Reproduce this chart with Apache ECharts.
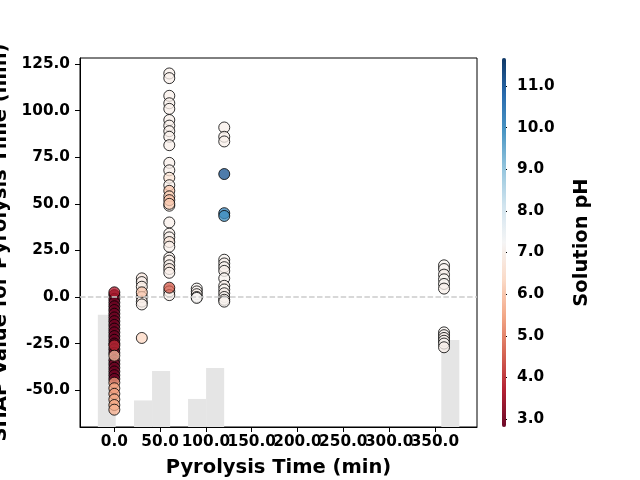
<!DOCTYPE html>
<html lang="en">
<head>
  <meta charset="UTF-8">
  <title>SHAP dependence - Pyrolysis Time</title>
  <script src="https://cdn.jsdelivr.net/npm/echarts@6/dist/echarts.min.js"></script>
  <style>
    html, body { margin: 0; padding: 0; background: #fff; }
    #chart { width: 640px; height: 480px; }
  </style>
</head>
<body>
  <div id="chart"></div>
  <script>
    // SHAP values and solution pH, one pair of arrays per pyrolysis time
    var shapT0 = [1, -1, -3, -5, -7, -9, -11, -13, -15, -17, -19, -21, -23, -25, -28, -30, -34, -36, -38, -40, -42, -44, 2.5, -26, -31.5, -46, -49, -52, -55, -58, -60.5];
    var phT0   = [2.85, 2.85, 2.85, 2.85, 2.85, 2.85, 2.85, 2.85, 2.85, 2.85, 2.85, 2.85, 2.85, 2.85, 2.85, 2.85, 2.85, 2.85, 2.85, 2.85, 2.85, 2.85, 3.7, 3.9, 5.8, 5.3, 5.4, 5.3, 5.5, 5.5, 5.6];

    var shapT30 = [10, 8, 5.5, 0, -2.5, -4, 2.5, -22];
    var phT30   = [6.8, 7.0, 6.9, 6.8, 6.9, 7.0, 6.0, 6.3];

    var shapT60 = [120, 117.5, 108, 104, 101, 95, 92, 89, 86, 81.5, 72, 68, 64, 60, 49, 40, 34, 32, 29.5, 27, 21, 19.5, 17, 15, 13, 3, 1, 57, 54, 52, 50, 5];
    var phT60   = [7.0, 7.0, 7.0, 7.0, 7.0, 7.0, 7.0, 7.0, 7.0, 7.0, 7.0, 7.0, 6.6, 7.0, 7.0, 7.0, 7.0, 7.0, 6.7, 7.0, 7.0, 7.0, 7.0, 6.8, 7.0, 7.0, 7.0, 6.0, 6.2, 5.9, 6.1, 4.5];

    var shapT90 = [4.5, 3, 1.5, 0, -0.5];
    var phT90   = [7.1, 7.1, 7.0, 7.1, 7.2];

    var shapT120 = [91, 86, 83.5, 20, 18, 16, 14, 10, 6, 4, 2, 0, -1.5, -2.5, 66, 45, 43.5];
    var phT120   = [7.0, 7.0, 7.0, 7.1, 7.0, 7.1, 7.0, 7.1, 7.0, 7.1, 7.0, 7.1, 7.0, 7.1, 11.1, 10.2, 10.0];

    var shapT360 = [17, 15, 12, 9.5, 7, 4.5, -19, -20.5, -22, -23.5, -25, -27];
    var phT360   = [7.1, 7.1, 7.0, 7.1, 7.1, 7.0, 7.1, 7.1, 7.0, 7.1, 7.1, 7.0];

    var timeGroups = [0, 30, 60, 90, 120, 360];
    var shapGroups = [shapT0, shapT30, shapT60, shapT90, shapT120, shapT360];
    var phGroups = [phT0, phT30, phT60, phT90, phT120, phT360];

    // background histogram of pyrolysis time
    var histLeft  = [-18, 21.5, 41.2, 80.5, 100.2, 357];
    var histRight = [1.5, 41.2, 60.9, 100.2, 119.9, 376.7];
    var histCount = [76, 18, 38, 19, 40, 59];
    var histTotal = 250;

    // tick labels
    var timeTicks = [0, 50, 100, 150, 200, 250, 300, 350];
    var shapTicks = [-50, -25, 0, 25, 50, 75, 100, 125];
    var phTicks = [3, 4, 5, 6, 7, 8, 9, 10, 11];

    var rdbu = ['#67001f', '#b2182b', '#d6604d', '#f4a582', '#fddbc7', '#f7f7f7',
                '#d1e5f0', '#92c5de', '#4393c3', '#2166ac', '#053061'];

    var points = [];
    for (var g = 0; g < timeGroups.length; g++) {
      for (var i = 0; i < shapGroups[g].length; i++) {
        points.push([timeGroups[g], shapGroups[g][i], phGroups[g][i]]);
      }
    }
    var bars = histLeft.map(function (l, i) { return [l, histRight[i], histCount[i]]; });

    // the x labels overlap in the original; ECharts drops overlapping neighbours,
    // so alternate labels go on two stacked axes
    var timeLabelsA = timeTicks.filter(function (v, i) { return i % 2 === 0; });
    var timeLabelsB = timeTicks.filter(function (v, i) { return i % 2 === 1; });

    var font = 'DejaVu Sans';
    var fmt = function (v) { return Number(v).toFixed(1); };
    var nameStyle = { color: '#000', fontSize: 19.5, fontWeight: 'bold', fontFamily: font };
    var tickLabel = { formatter: fmt, margin: 8, color: '#000', fontSize: 15.3, fontWeight: 'bold', fontFamily: font };

    var chart = echarts.init(document.getElementById('chart'));
    chart.setOption({
      animation: false,
      textStyle: { fontFamily: font },
      grid: [
        { left: 80, top: 58, width: 397, height: 369, show: true, borderColor: '#000', borderWidth: 1,
          containLabel: false, outerBoundsMode: 'none' },
        { left: 502, top: 58, width: 4, height: 369, containLabel: false, outerBoundsMode: 'none' }
      ],
      xAxis: [
        {
          gridIndex: 0, type: 'value', position: 'bottom', min: -37.5, max: 396,
          name: 'Pyrolysis Time (min)', nameLocation: 'middle', nameGap: 31, nameTextStyle: nameStyle,
          axisLine: { show: true, onZero: false, lineStyle: { color: '#000', width: 1 } },
          axisTick: { show: true, length: 5, customValues: timeTicks, lineStyle: { color: '#000' } },
          axisLabel: Object.assign({ customValues: timeLabelsA }, tickLabel),
          splitLine: { show: false }
        },
        { gridIndex: 1, type: 'value', min: 0, max: 1, show: false },
        {
          gridIndex: 0, type: 'value', position: 'bottom', min: -37.5, max: 396,
          axisLine: { show: false, onZero: false },
          axisTick: { show: false },
          axisLabel: Object.assign({ customValues: timeLabelsB }, tickLabel),
          splitLine: { show: false }
        }
      ],
      yAxis: [
        {
          gridIndex: 0, type: 'value', min: -69.8, max: 128.3,
          name: 'SHAP Value for Pyrolysis Time (min)', nameLocation: 'middle', nameRotate: 90, nameGap: 60,
          nameTextStyle: nameStyle,
          axisLine: { show: true, onZero: false, lineStyle: { color: '#000', width: 1 } },
          axisTick: { show: true, length: 5, customValues: shapTicks, lineStyle: { color: '#000' } },
          axisLabel: { customValues: shapTicks, formatter: fmt, margin: 10,
                       color: '#000', fontSize: 15.3, fontWeight: 'bold', fontFamily: font },
          splitLine: { show: false }
        },
        { gridIndex: 0, type: 'value', min: 0, max: histTotal, show: false },
        {
          gridIndex: 1, type: 'value', position: 'right', min: 2.81, max: 11.67,
          name: 'Solution pH', nameLocation: 'middle', nameRotate: 90, nameGap: 66, nameTextStyle: nameStyle,
          axisLine: { show: false },
          axisTick: { show: true, length: 5, customValues: phTicks, lineStyle: { color: '#000' } },
          axisLabel: { customValues: phTicks, formatter: fmt, margin: 11,
                       color: '#000', fontSize: 15.3, fontWeight: 'bold', fontFamily: font },
          splitLine: { show: false }
        }
      ],
      visualMap: {
        type: 'continuous',
        min: 2.81, max: 11.67,
        dimension: 2,
        seriesIndex: 1,
        orient: 'vertical',
        left: 502, top: 58,
        itemWidth: 4, itemHeight: 369,
        padding: 0,
        calculable: false,
        text: null,
        inRange: { color: rdbu, colorAlpha: [0.95, 0.95] }
      },
      series: [
        {
          type: 'custom',
          xAxisIndex: 0, yAxisIndex: 1,
          z: 1,
          silent: true,
          encode: { x: [0, 1], y: 2 },
          data: bars,
          renderItem: function (params, api) {
            var p0 = api.coord([api.value(0), 0]);
            var p1 = api.coord([api.value(1), api.value(2)]);
            return {
              type: 'rect',
              shape: { x: p0[0], y: p1[1], width: p1[0] - p0[0], height: p0[1] - p1[1] },
              style: { fill: '#e5e5e5' }
            };
          }
        },
        {
          type: 'scatter',
          xAxisIndex: 0, yAxisIndex: 0,
          z: 3,
          symbol: 'circle',
          symbolSize: 11,
          itemStyle: { borderColor: '#000', borderWidth: 1 },
          data: points,
          markLine: {
            silent: true,
            symbol: ['none', 'none'],
            label: { show: false },
            lineStyle: { color: '#cccccc', type: [5.5, 2.4], width: 1.5 },
            data: [{ yAxis: 0 }]
          }
        }
      ]
    });
  </script>
</body>
</html>
